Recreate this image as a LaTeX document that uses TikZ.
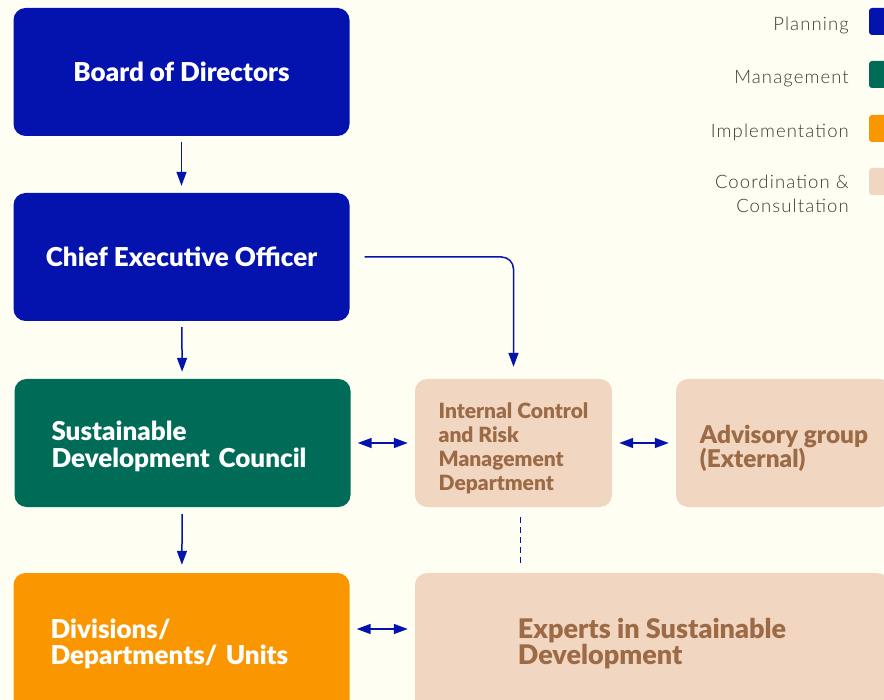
\documentclass[tikz,border=0pt]{standalone}
\usepackage{fontspec}
\setmainfont{Lato}
\newfontfamily\boxfont{Lato Black}
\newfontfamily\legendfont[LetterSpace=6]{Lato Light}
\usepackage{tikz}
\usetikzlibrary{arrows.meta}
\definecolor{mybgcolor}{HTML}{FFFEF3}
\definecolor{myplancolor}{HTML}{0413AD}
\definecolor{mymanagecolor}{HTML}{006B57}
\definecolor{myimplcolor}{HTML}{FA9600}
\definecolor{mycoordcolor}{HTML}{F1D6C1}
\definecolor{mybrowncolor}{HTML}{9C6B46}
\definecolor{mylegendtext}{HTML}{3A3A3A}
\newcommand{\topstrut}[1]{\rule{0pt}{#1}}
\tikzset{
  orgbox/.style={rectangle, rounded corners=12pt, minimum height=128pt, inner sep=0pt},
  planbox/.style={orgbox, minimum width=336pt, align=center, text=white, fill=myplancolor},
  leftbox/.style={orgbox, minimum width=336pt, text width=262pt, inner xsep=37pt, align=left, text=white},
  coordbox/.style={orgbox, fill=mycoordcolor, align=left, text=mybrowncolor},
  legendbox/.style={rectangle, rounded corners=3pt, minimum width=28pt, minimum height=27pt, inner sep=0pt},
  legendlabel/.style={anchor=east, align=right, text=mylegendtext, inner sep=0pt, font=\legendfont\fontsize{18.5pt}{24pt}\selectfont},
  flow/.style={draw=myplancolor, line width=1.5pt, -{Triangle[length=14pt, width=10pt]}},
  twoway/.style={draw=myplancolor, line width=1.5pt, {Triangle[length=14pt, width=10pt]}-{Triangle[length=14pt, width=10pt]}, shorten <=7pt, shorten >=7pt},
}

\begin{document}
\begin{tikzpicture}[x=1pt, y=-1pt]%
\useasboundingbox (0, 0) rectangle (884, 700);%
\clip (0, 0) rectangle (884, 700);%
\fill[mybgcolor] (0, 0) rectangle (884, 700);%
% planning column
\node[planbox, font=\boxfont\fontsize{26pt}{27pt}\selectfont] (board) at (181.5, 72) {Board of Directors};%
\node[planbox, font=\boxfont\fontsize{26pt}{27pt}\selectfont] (ceo) at (181.5, 257) {Chief Executive Officer};%
\node[leftbox, fill=mymanagecolor, font=\boxfont\fontsize{26pt}{27pt}\selectfont] (sdc) at (182.5, 443) {\topstrut{25.5pt}Sustainable\\Development Council};%
\node[leftbox, fill=myimplcolor, minimum height=142pt, font=\boxfont\fontsize{26pt}{26pt}\selectfont] (div) at (181.5, 644) {Divisions/\\Departments/ Units};%
% coordination boxes
\node[coordbox, minimum width=197pt, font=\boxfont\fontsize{21pt}{24pt}\selectfont] (icrm) at (513.5, 443) {\topstrut{25.5pt}Internal Control\\and Risk\\Management\\Department};%
\node[coordbox, minimum width=216pt, font=\boxfont\fontsize{24.4pt}{24pt}\selectfont] (adv) at (784, 443) {\topstrut{30pt}Advisory group\\(External)};%
\node[coordbox, minimum width=474pt, minimum height=142pt, font=\boxfont\fontsize{27pt}{26pt}\selectfont] (expert) at (652, 644) {Experts in Sustainable\\Development};%
% legend
\node[legendbox, fill=myplancolor] (lgplan) at (883, 21.5) {};%
\node[legendbox, fill=mymanagecolor] (lgmanage) at (883, 74.5) {};%
\node[legendbox, fill=myimplcolor] (lgimpl) at (883, 128.5) {};%
\node[legendbox, fill=mycoordcolor] (lgcoord) at (883, 181.5) {};%
\node[legendlabel] (lbplan) at (849, 25) {Planning};%
\node[legendlabel] (lbmanage) at (849, 79) {Management};%
\node[legendlabel] (lbimpl) at (849, 132) {Implementation};%
\node[legendlabel] (lbcoord) at (849, 194) {Coordination \&\\Consultation};%
% connectors
\draw[flow, shorten <=6pt, shorten >=7pt] (board) -- (ceo);%
\draw[flow, shorten <=6pt, shorten >=7pt] (ceo) -- (sdc);%
\draw[flow, shorten <=7pt, shorten >=8pt] (sdc) -- (div);%
\draw[flow, rounded corners=12pt, shorten >=12pt] ([xshift=15pt]ceo.east) -| (icrm.north);%
\draw[twoway] (sdc) -- (icrm);%
\draw[twoway] (icrm) -- (adv);%
\draw[twoway] ([yshift=15pt]div.east) -- ([yshift=15pt]div.east -| expert.west);%
\coordinate (dashtop) at ([xshift=6.5pt]icrm.south);%
\draw[draw=myplancolor, line width=1pt, dash pattern=on 6pt off 4pt, shorten <=10pt, shorten >=8pt] (dashtop) -- (dashtop |- expert.north);%
\end{tikzpicture}
\end{document}
